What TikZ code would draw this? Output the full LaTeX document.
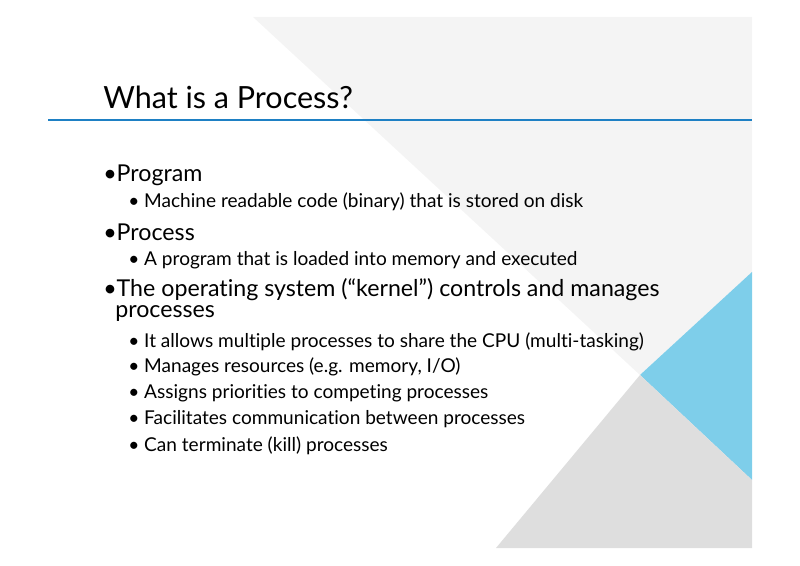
\documentclass[tikz,border=0pt]{standalone}
\usepackage{fontspec}
\setmainfont[Ligatures={TeX,NoCommon}]{Lato}
\definecolor{slidegray}{RGB}{244,244,244}
\definecolor{darkgray}{RGB}{222,222,222}
\definecolor{skyblue}{RGB}{126,206,234}
\definecolor{ruleblue}{RGB}{30,128,196}
\begin{document}
\begin{tikzpicture}[x=0.75pt,y=0.75pt,yscale=-1,xscale=1,
  title/.style={anchor=west,inner sep=0pt,font=\fontsize{22.9}{27}\selectfont},
  lvlone/.style={anchor=west,inner sep=0pt,font=\fontsize{17.4}{21}\selectfont},
  lvltwo/.style={anchor=west,inner sep=0pt,font=\fontsize{14.3}{17}\selectfont}]
\useasboundingbox (0,0) rectangle (800,566);

%Background shapes
\fill [slidegray] (253,17) -- (752,17) -- (752,272) -- (640,375) -- cycle;
\fill [skyblue] (752,272) -- (640,375) -- (752,480) -- cycle;
\fill [darkgray] (640,375) -- (752,480) -- (752,548) -- (496,548) -- cycle;

%Title rule
\coordinate (ruleL) at (48,120);
\coordinate (ruleR) at (752,120);
\draw [ruleblue, line width=2.2pt] (ruleL) -- (ruleR);

% Title
\node [title] (ttl) at (103,97) {What is a Process?};

% Bullets
\node [lvlone] (prog) at (103,175) {•Program};
\node [lvltwo] (progA) at (128,202) {• Machine readable code (binary) that is stored on disk};
\node [lvlone] (proc) at (103,232) {•Process};
\node [lvltwo] (procA) at (128,260) {• A program that is loaded into memory and executed};
\node [lvlone] (os) at (103,290) {•The operating system (“kernel”) controls and manages};
\node [lvlone] (osB) at (115,314) {processes};
\node [lvltwo] (osA) at (128,342) {• It allows multiple processes to share the CPU (multi-tasking)};
\node [lvltwo] (osC) at (128,367) {• Manages resources (e.g. memory, I/O)};
\node [lvltwo] (osD) at (128,393) {• Assigns priorities to competing processes};
\node [lvltwo] (osE) at (128,419) {• Facilitates communication between processes};
\node [lvltwo] (osF) at (128,446) {• Can terminate (kill) processes};

\end{tikzpicture}
\end{document}
